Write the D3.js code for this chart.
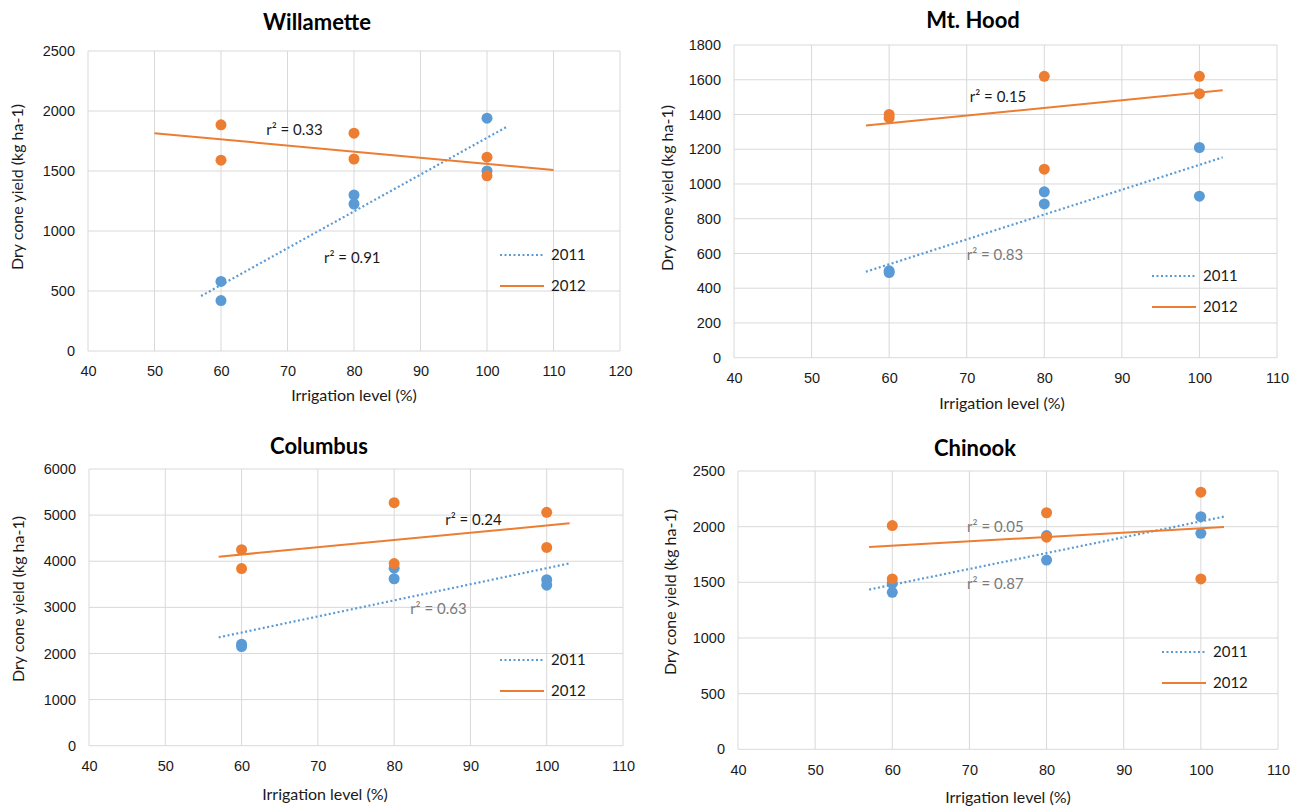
<!DOCTYPE html>
<html>
<head>
<meta charset="utf-8">
<script src="https://cdn.jsdelivr.net/npm/d3@7"></script>
<style>
  body { margin: 0; background: #fff; }
  svg { display: block; font-family: Lato, "Open Sans", sans-serif; }
  .tick text { font-size: 14.5px; fill: #1a1a1a; }
</style>
</head>
<body>
<svg id="chart" width="1298" height="806"></svg>
<script>
// irrigation levels (two reps per level)
var irrigation = [60, 60, 80, 80, 100, 100];

// dry cone yield (kg ha-1)
var willamette2011 = [580, 420, 1300, 1225, 1940, 1500];
var willamette2012 = [1885, 1590, 1815, 1600, 1615, 1460];
var mtHood2011 = [500, 490, 955, 885, 1210, 930];
var mtHood2012 = [1400, 1380, 1620, 1085, 1620, 1520];
var columbus2011 = [2200, 2150, 3850, 3620, 3600, 3480];
var columbus2012 = [4250, 3840, 5270, 3950, 5060, 4300];
var chinook2011 = [1490, 1410, 1920, 1700, 2090, 1940];
var chinook2012 = [2010, 1530, 2125, 1905, 2310, 1530];

// trendline end points
var trendX = [57, 103];
var willametteTrendX2012 = [50, 110];
var willametteTrend2011 = [458, 1869];
var willametteTrend2012 = [1815, 1508];
var mtHoodTrend2011 = [495, 1153];
var mtHoodTrend2012 = [1337, 1539];
var columbusTrend2011 = [2349, 3954];
var columbusTrend2012 = [4099, 4822];
var chinookTrend2011 = [1435, 2090];
var chinookTrend2012 = [1818, 1998];

// r² labels [text, x, y]
var willametteR2 = [["r\u00B2 = 0.33", 66.8, 1840], ["r\u00B2 = 0.91", 75.5, 775]];
var mtHoodR2 = [["r\u00B2 = 0.15", 70.4, 1500], ["r\u00B2 = 0.83", 70.0, 591]];
var columbusR2 = [["r\u00B2 = 0.24", 86.7, 4894], ["r\u00B2 = 0.63", 82.1, 2964]];
var chinookR2 = [["r\u00B2 = 0.05", 69.7, 1997], ["r\u00B2 = 0.87", 69.7, 1483]];

var seriesNames = ["2011", "2012"];

var blue = "#5b9bd5";
var orange = "#ed7d31";
var dark = "#1a1a1a";
var grey = "#7a7a7a";

var panels = [
  { title: "Willamette", box: [88, 620, 51, 351], xMax: 120, yMax: 2500, yStep: 500,
    d11: willamette2011, d12: willamette2012,
    t11: [trendX, willametteTrend2011], t12: [willametteTrendX2012, willametteTrend2012],
    r2: willametteR2, r2Colors: [dark, dark],
    titlePos: [317, 22], xTitle: [354, 395], yTitle: [17, 187], legend: [500, 255] },
  { title: "Mt. Hood", box: [734, 1277, 45, 357.7], xMax: 110, yMax: 1800, yStep: 200,
    d11: mtHood2011, d12: mtHood2012,
    t11: [trendX, mtHoodTrend2011], t12: [trendX, mtHoodTrend2012],
    r2: mtHoodR2, r2Colors: [dark, grey],
    titlePos: [973, 20], xTitle: [1002, 403], yTitle: [667, 188], legend: [1152, 276] },
  { title: "Columbus", box: [89, 623, 469, 745.7], xMax: 110, yMax: 6000, yStep: 1000,
    d11: columbus2011, d12: columbus2012,
    t11: [trendX, columbusTrend2011], t12: [trendX, columbusTrend2012],
    r2: columbusR2, r2Colors: [dark, grey],
    titlePos: [319, 446], xTitle: [325, 794], yTitle: [18, 599], legend: [500, 660] },
  { title: "Chinook", box: [738, 1278, 471, 749.3], xMax: 110, yMax: 2500, yStep: 500,
    d11: chinook2011, d12: chinook2012,
    t11: [trendX, chinookTrend2011], t12: [trendX, chinookTrend2012],
    r2: chinookR2, r2Colors: [grey, grey],
    titlePos: [975, 448], xTitle: [1008, 797], yTitle: [670, 592], legend: [1162, 652] }
];

var svg = d3.select("#chart");

panels.forEach(function(p) {
  var x = d3.scaleLinear().domain([40, p.xMax]).range([p.box[0], p.box[1]]);
  var y = d3.scaleLinear().domain([0, p.yMax]).range([p.box[3], p.box[2]]);
  var xTicks = d3.range(40, p.xMax + 1, 10);
  var yTicks = d3.range(0, p.yMax + 1, p.yStep);

  var g = svg.append("g");

  // gridlines
  g.append("g").selectAll("line.v").data(xTicks).enter().append("line")
    .attr("x1", d => x(d)).attr("x2", d => x(d))
    .attr("y1", p.box[2]).attr("y2", p.box[3])
    .attr("stroke", "#d9d9d9").attr("stroke-width", 1);
  g.append("g").selectAll("line.h").data(yTicks).enter().append("line")
    .attr("x1", p.box[0]).attr("x2", p.box[1])
    .attr("y1", d => y(d)).attr("y2", d => y(d))
    .attr("stroke", "#d9d9d9").attr("stroke-width", 1);

  // axes (labels only)
  g.append("g")
    .attr("transform", `translate(0,${p.box[3]})`)
    .call(d3.axisBottom(x).tickValues(xTicks).tickFormat(d3.format("d")).tickSize(0).tickPadding(15))
    .call(a => a.select(".domain").remove());
  g.append("g")
    .attr("transform", `translate(${p.box[0]},0)`)
    .call(d3.axisLeft(y).tickValues(yTicks).tickFormat(d3.format("d")).tickSize(0).tickPadding(13))
    .call(a => a.select(".domain").remove());

  // points: 2011 first, 2012 on top
  [[p.d11, blue], [p.d12, orange]].forEach(function(s) {
    g.append("g").selectAll("circle").data(s[0]).enter().append("circle")
      .attr("cx", (d, i) => x(irrigation[i]))
      .attr("cy", d => y(d))
      .attr("r", 5.5)
      .attr("fill", s[1]);
  });

  // trendlines
  var line = d3.line().x(d => x(d[0])).y(d => y(d[1]));
  g.append("path")
    .attr("d", line(d3.zip(p.t11[0], p.t11[1])))
    .attr("fill", "none").attr("stroke", blue)
    .attr("stroke-width", 2.2).attr("stroke-dasharray", "2,2.5");
  g.append("path")
    .attr("d", line(d3.zip(p.t12[0], p.t12[1])))
    .attr("fill", "none").attr("stroke", orange)
    .attr("stroke-width", 2);

  // r² labels
  g.selectAll("text.r2").data(p.r2).enter().append("text")
    .attr("x", d => x(d[1])).attr("y", d => y(d[2]))
    .attr("dy", "0.35em")
    .attr("font-size", 15)
    .attr("fill", (d, i) => p.r2Colors[i])
    .text(d => d[0]);

  // legend
  var lg = g.append("g");
  seriesNames.forEach(function(name, i) {
    var ly = p.legend[1] + i * 31;
    lg.append("line")
      .attr("x1", p.legend[0]).attr("x2", p.legend[0] + 44)
      .attr("y1", ly).attr("y2", ly)
      .attr("stroke", i === 0 ? blue : orange)
      .attr("stroke-width", 2)
      .attr("stroke-dasharray", i === 0 ? "2,2.5" : null);
    lg.append("text")
      .attr("x", p.legend[0] + 51).attr("y", ly)
      .attr("dy", "0.35em")
      .attr("font-size", 15).attr("fill", dark)
      .text(name);
  });

  // titles
  g.append("text")
    .attr("x", p.titlePos[0]).attr("y", p.titlePos[1])
    .attr("dy", "0.35em").attr("text-anchor", "middle")
    .attr("font-size", 22).attr("font-weight", "bold").attr("fill", "#000")
    .text(p.title);
  g.append("text")
    .attr("x", p.xTitle[0]).attr("y", p.xTitle[1])
    .attr("dy", "0.35em").attr("text-anchor", "middle")
    .attr("font-size", 16).attr("fill", dark)
    .text("Irrigation level (%)");
  g.append("text")
    .attr("transform", `translate(${p.yTitle[0]},${p.yTitle[1]}) rotate(-90)`)
    .attr("dy", "0.35em").attr("text-anchor", "middle")
    .attr("font-size", 16).attr("fill", dark)
    .text("Dry cone yield (kg ha-1)");
});
</script>
</body>
</html>
